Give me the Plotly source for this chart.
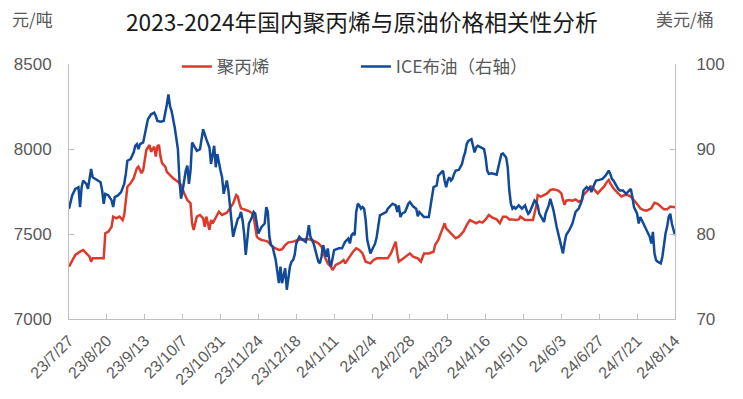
import pandas as pd
import plotly.graph_objects as go

# ---------------- data ----------------
START = "2023-07-27"

# polypropylene, yuan/ton (left axis); day offsets from START
pp_days = [0, 4, 7, 9, 11, 13, 14, 15, 22, 23, 25, 27, 28, 30, 32, 34, 35, 37, 39, 41,
           43, 44, 46, 47, 48, 49, 51, 52, 54, 55, 56, 57, 58, 59, 61, 62, 64, 66, 69, 71,
           73, 75, 77, 78, 79, 81, 83, 85, 86, 87, 89, 90, 91, 93, 95, 97, 100, 102, 104, 106,
           107, 108, 109, 112, 114, 116, 117, 118, 119, 120, 122, 124, 126, 128, 130, 133, 135, 137, 139, 142,
           145, 148, 152, 155, 158, 160, 162, 164, 166, 167, 169, 172, 174, 175, 177, 180, 182, 184, 186, 188,
           191, 193, 195, 202, 204, 206, 207, 208, 209, 212, 214, 216, 218, 221, 223, 225, 228, 231, 232, 234,
           236, 237, 238, 239, 241, 243, 245, 247, 250, 252, 254, 256, 258, 260, 262, 264, 266, 268, 271, 273,
           275, 277, 279, 281, 283, 285, 286, 289, 291, 294, 296, 297, 299, 301, 303, 305, 307, 310, 312, 313,
           314, 315, 317, 319, 321, 323, 325, 326, 329, 331, 333, 335, 337, 339, 341, 342, 343, 345, 348, 350,
           352, 354, 356, 358, 360, 362, 364, 366, 369, 371, 373, 375, 377, 379, 381, 384]
pp_price = [7308, 7377, 7396, 7406, 7386, 7367, 7337, 7357, 7357, 7504, 7514, 7543, 7602, 7592, 7602, 7582, 7612, 7778, 7798, 7828,
            7887, 7896, 7857, 7876, 7935, 7994, 8024, 7984, 8014, 7955, 8014, 8024, 7955, 7916, 7896, 7866, 7847, 7828, 7808, 7788,
            7739, 7700, 7680, 7563, 7524, 7602, 7612, 7592, 7543, 7602, 7524, 7582, 7563, 7602, 7631, 7612, 7625, 7651, 7680, 7729,
            7720, 7680, 7651, 7641, 7635, 7622, 7602, 7543, 7484, 7475, 7465, 7461, 7455, 7435, 7420, 7406, 7410, 7435, 7451, 7455,
            7465, 7469, 7469, 7461, 7445, 7426, 7367, 7327, 7308, 7288, 7318, 7331, 7347, 7327, 7357, 7396, 7416, 7406, 7386, 7337,
            7327, 7347, 7357, 7357, 7386, 7426, 7455, 7386, 7337, 7357, 7371, 7386, 7367, 7357, 7337, 7386, 7386, 7396, 7435, 7465,
            7514, 7543, 7563, 7533, 7514, 7494, 7475, 7484, 7514, 7553, 7582, 7573, 7563, 7573, 7567, 7586, 7612, 7598, 7586, 7563,
            7602, 7602, 7586, 7586, 7582, 7586, 7602, 7582, 7582, 7582, 7661, 7729, 7720, 7729, 7739, 7759, 7763, 7755, 7739, 7700,
            7671, 7696, 7700, 7696, 7704, 7690, 7700, 7730, 7759, 7778, 7759, 7739, 7759, 7778, 7808, 7818, 7798, 7769, 7739, 7720,
            7729, 7729, 7720, 7700, 7677, 7651, 7641, 7637, 7651, 7684, 7677, 7661, 7645, 7645, 7661, 7657]

# ICE Brent, USD/bbl (right axis); day offsets from START
brent_days = [0, 2, 4, 6, 7, 8, 9, 11, 12, 13, 14, 15, 17, 20, 21, 22, 23, 25, 27, 28,
              29, 31, 33, 35, 36, 37, 39, 41, 42, 43, 44, 45, 47, 48, 49, 50, 52, 54, 55, 56,
              58, 60, 62, 63, 64, 65, 67, 68, 69, 70, 71, 72, 74, 75, 76, 77, 78, 81, 83, 84,
              85, 87, 89, 90, 91, 92, 93, 94, 96, 97, 98, 100, 101, 102, 103, 104, 105, 106, 107, 108,
              109, 110, 111, 112, 113, 114, 116, 117, 118, 119, 120, 122, 124, 125, 126, 127, 128, 129, 130, 131,
              133, 134, 135, 136, 137, 138, 139, 140, 141, 142, 143, 144, 146, 147, 150, 151, 152, 153, 155, 157,
              158, 159, 160, 161, 162, 163, 164, 165, 166, 167, 168, 171, 173, 174, 175, 177, 178, 179, 180, 181,
              182, 183, 184, 185, 186, 187, 188, 189, 191, 192, 194, 195, 196, 197, 199, 201, 202, 203, 205, 207,
              208, 209, 210, 211, 213, 215, 216, 218, 220, 221, 222, 224, 225, 228, 230, 231, 233, 234, 236, 237,
              238, 239, 240, 241, 242, 243, 244, 245, 247, 249, 250, 251, 252, 253, 254, 255, 256, 257, 258, 259,
              261, 263, 264, 265, 266, 268, 271, 272, 273, 274, 275, 277, 278, 279, 280, 281, 282, 283, 285, 287,
              288, 289, 290, 291, 292, 293, 295, 296, 297, 298, 300, 301, 302, 304, 305, 307, 309, 311, 313, 314,
              315, 317, 319, 321, 323, 325, 326, 328, 329, 330, 331, 333, 334, 336, 338, 340, 342, 343, 344, 345,
              347, 348, 349, 351, 353, 354, 355, 356, 357, 358, 359, 360, 361, 362, 363, 364, 366, 368, 369, 370,
              371, 372, 373, 375, 376, 377, 378, 379, 380, 381, 382, 384]
brent_price = [82.98, 84.54, 85.31, 85.51, 83.17, 85.51, 86.29, 85.90, 85.31, 86.68, 87.65, 86.68, 86.48, 86.09, 85.12, 83.56, 84.73, 84.54, 83.95, 83.17,
               84.34, 84.54, 84.93, 85.90, 87.07, 88.62, 88.82, 89.60, 90.38, 90.57, 89.99, 90.57, 90.77, 91.74, 92.32, 93.49, 94.08, 94.27, 93.88, 93.30,
               93.22, 93.30, 95.24, 96.41, 95.05, 94.47, 92.52, 90.96, 89.99, 86.29, 84.15, 85.12, 87.46, 88.04, 85.90, 87.46, 90.77, 89.79, 89.99, 91.16,
               92.32, 91.16, 90.18, 88.24, 89.60, 90.38, 87.85, 89.40, 87.46, 86.68, 84.73, 86.29, 85.12, 83.17, 82.00, 79.67, 80.45, 81.23, 81.81, 82.00,
               82.59, 81.62, 80.00, 77.53, 79.67, 81.23, 82.00, 82.59, 82.39, 81.23, 80.06, 80.84, 81.23, 83.17, 82.59, 79.67, 78.70, 78.50, 77.72, 76.94,
               74.22, 76.16, 74.22, 75.00, 75.97, 73.44, 74.61, 76.16, 76.75, 76.94, 77.53, 78.89, 79.67, 79.47, 79.08, 79.86, 81.03, 79.67, 78.89, 77.33,
               76.75, 76.55, 77.33, 78.70, 78.11, 77.33, 78.31, 76.75, 76.16, 77.33, 78.11, 78.31, 78.31, 78.70, 79.08, 79.47, 78.89, 79.86, 80.06, 79.86,
               82.59, 83.56, 83.37, 82.98, 83.17, 82.98, 81.62, 79.28, 77.72, 78.11, 78.89, 79.67, 80.84, 82.20, 82.39, 82.59, 82.98, 83.17, 83.56, 83.37,
               82.59, 83.37, 82.00, 82.39, 82.59, 83.56, 83.76, 83.25, 82.98, 82.08, 82.59, 82.20, 82.00, 82.00, 84.34, 85.51, 85.70, 86.87, 87.26, 87.46,
               86.29, 85.51, 86.29, 86.68, 86.29, 86.48, 87.07, 87.46, 87.53, 88.24, 89.01, 89.60, 90.57, 90.96, 91.04, 91.16, 90.38, 89.60, 90.18, 90.38,
               90.18, 89.99, 89.01, 87.46, 87.07, 87.15, 86.99, 88.04, 88.62, 89.40, 89.48, 89.01, 87.85, 85.12, 83.56, 82.98, 83.17, 82.98, 83.37, 82.98,
               83.17, 83.37, 82.78, 82.39, 82.59, 82.98, 83.95, 83.76, 83.37, 82.39, 81.62, 81.42, 82.39, 83.37, 84.15, 82.78, 80.84, 79.28, 77.72, 78.89,
               79.86, 80.45, 81.23, 82.59, 82.98, 83.95, 85.12, 85.51, 85.31, 85.51, 84.93, 85.90, 86.29, 86.37, 86.48, 86.87, 87.46, 87.07, 86.48, 86.29,
               85.51, 85.31, 85.12, 85.12, 84.73, 84.93, 85.12, 85.31, 84.34, 83.17, 82.78, 82.39, 81.23, 82.00, 81.62, 81.23, 80.45, 79.67, 78.89, 80.25,
               77.72, 76.94, 76.75, 76.55, 77.33, 78.89, 80.06, 80.84, 82.00, 82.39, 81.23, 79.86]

tick_dates = ["2023-07-27", "2023-08-20", "2023-09-13", "2023-10-07", "2023-10-31", "2023-11-24",
              "2023-12-18", "2024-01-11", "2024-02-04", "2024-02-28", "2024-03-23", "2024-04-16",
              "2024-05-10", "2024-06-03", "2024-06-27", "2024-07-21", "2024-08-14"]
tick_labels = ["23/7/27", "23/8/20", "23/9/13", "23/10/7", "23/10/31", "23/11/24",
               "23/12/18", "24/1/11", "24/2/4", "24/2/28", "24/3/23", "24/4/16",
               "24/5/10", "24/6/3", "24/6/27", "24/7/21", "24/8/14"]

left_ticks = [7000, 7500, 8000, 8500]
right_ticks = [70, 80, 90, 100]

assert len(pp_days) == len(pp_price)
assert len(brent_days) == len(brent_price)

# ---------------- figure ----------------
RED = "#dc3b2c"
BLUE = "#114a99"
GRID = "#bfbfbf"
TXT = "#595959"
CJK = "Noto Sans CJK SC"
NUM = "Liberation Sans, Noto Sans CJK SC"

base = pd.Timestamp(START)
pp_dates = base + pd.to_timedelta(pp_days, unit="D")
brent_dates = base + pd.to_timedelta(brent_days, unit="D")

fig = go.Figure()
fig.add_trace(go.Scatter(x=pp_dates, y=pp_price, name="聚丙烯", mode="lines",
                         line=dict(color=RED, width=2.5)))
fig.add_trace(go.Scatter(x=brent_dates, y=brent_price, name="ICE布油（右轴）", mode="lines",
                         yaxis="y2", line=dict(color=BLUE, width=2.5)))

axis_common = dict(showline=True, linecolor=GRID, linewidth=1, ticks="inside", ticklen=5,
                   tickcolor=GRID, showgrid=False, zeroline=False)

fig.update_layout(
    width=743, height=399,
    margin=dict(l=69, r=68, t=64, b=80, autoexpand=False),
    paper_bgcolor="white", plot_bgcolor="white",
    font=dict(family=CJK, color=TXT),
    showlegend=True,
    legend=dict(orientation="h", x=0.178, y=0.99, xanchor="left", yanchor="middle",
                font=dict(size=17.5, color=TXT, family=CJK),
                entrywidth=134, entrywidthmode="pixels",
                bgcolor="rgba(0,0,0,0)", borderwidth=0),
    xaxis=dict(type="date", range=[tick_dates[0], tick_dates[-1]],
               tickvals=tick_dates, ticktext=tick_labels, tickangle=-45,
               tickfont=dict(size=16, color=TXT, family=NUM), ticklabelstandoff=5,
               **axis_common),
    yaxis=dict(range=[left_ticks[0], left_ticks[-1]], tickvals=left_ticks,
               tickfont=dict(size=17, color=TXT, family=NUM), ticklabelstandoff=13,
               **axis_common),
    yaxis2=dict(range=[right_ticks[0], right_ticks[-1]], tickvals=right_ticks,
                overlaying="y", side="right",
                tickfont=dict(size=17, color=TXT, family=NUM), ticklabelstandoff=17,
                **axis_common),
    annotations=[
        dict(text="2023-2024年国内聚丙烯与原油价格相关性分析", xref="paper", yref="paper",
             x=0.4835, y=1.166, xanchor="center", yanchor="middle", showarrow=False,
             font=dict(size=22.7, color="#1a1a1a", family=CJK)),
        dict(text="元/吨", xref="paper", yref="paper", x=-0.0974, y=1.18,
             xanchor="left", yanchor="middle", showarrow=False,
             font=dict(size=17, color=TXT, family=CJK)),
        dict(text="美元/桶", xref="paper", yref="paper", x=1.067, y=1.18,
             xanchor="right", yanchor="middle", showarrow=False,
             font=dict(size=17, color=TXT, family=CJK)),
    ],
)

fig.write_html("out.html", config={"displayModeBar": False, "staticPlot": True},
               post_script="document.body.style.margin='0';document.body.style.overflow='hidden';")
